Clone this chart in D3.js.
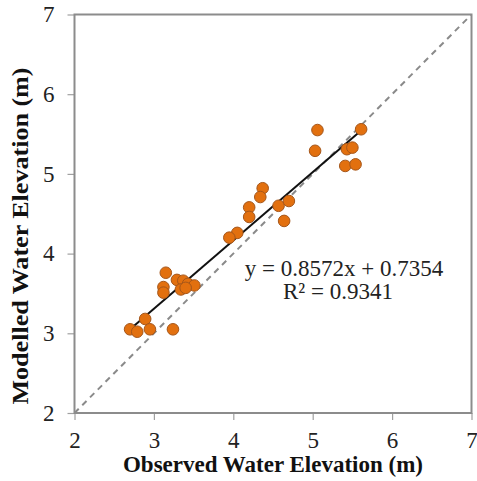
<!DOCTYPE html>
<html>
<head>
<meta charset="utf-8">
<script src="https://cdn.jsdelivr.net/npm/d3@7"></script>
<style>
  html, body { margin: 0; padding: 0; background: #fff; }
  svg { display: block; }
  text { font-family: "Liberation Serif", "Times New Roman", serif; }
</style>
</head>
<body>
<svg id="chart" width="477" height="481"></svg>
<script>
// Observed vs modelled water elevation (m)
const observed = [
  5.06, 5.03, 5.61, 5.43, 5.50, 5.41, 5.54,
  4.37, 4.34, 4.20, 4.20, 4.57, 4.70, 4.64, 4.05, 3.95,
  3.15, 3.12, 3.12, 3.29, 3.37, 3.43, 3.51, 3.34, 3.40,
  2.70, 2.79, 2.89, 2.95, 3.24
];
const modelled = [
  5.55, 5.29, 5.56, 5.31, 5.33, 5.10, 5.12,
  4.82, 4.71, 4.58, 4.46, 4.60, 4.66, 4.41, 4.26, 4.20,
  3.76, 3.58, 3.51, 3.67, 3.66, 3.62, 3.60, 3.55, 3.57,
  3.05, 3.02, 3.18, 3.05, 3.05
];
const ticks = [2, 3, 4, 5, 6, 7];
const fitSlope = 0.8572;
const fitIntercept = 0.7354;
const fitR2 = 0.9341;

const svg = d3.select("#chart");
const plotLeft = 74.5, plotRight = 471.5, plotTop = 14.5, plotBottom = 413;

const x = d3.scaleLinear().domain([2, 7]).range([plotLeft, plotRight]);
const y = d3.scaleLinear().domain([2, 7]).range([plotBottom, plotTop]);

// axes with outward ticks
const xAxis = svg.append("g")
  .attr("transform", `translate(0,${plotBottom})`)
  .call(d3.axisBottom(x).tickValues(ticks).tickSize(7).tickPadding(12).tickFormat(d3.format("d")));
const yAxis = svg.append("g")
  .attr("transform", `translate(${plotLeft},0)`)
  .call(d3.axisLeft(y).tickValues(ticks).tickSize(7).tickPadding(13).tickFormat(d3.format("d")));

[xAxis, yAxis].forEach(a => {
  a.select(".domain").remove();
  a.selectAll(".tick line").attr("stroke", "#a0a0a0").attr("stroke-width", 1.2);
  a.selectAll(".tick text")
    .attr("fill", "#222")
    .style("font-family", '"Liberation Serif", "Times New Roman", serif')
    .style("font-size", "23px");
});

// 1:1 reference line
svg.append("line")
  .attr("x1", x(2)).attr("y1", y(2))
  .attr("x2", x(7)).attr("y2", y(7))
  .attr("stroke", "#8a8a8a")
  .attr("stroke-width", 2)
  .attr("stroke-dasharray", "6,5");

// plot frame
svg.append("rect")
  .attr("x", plotLeft).attr("y", plotTop)
  .attr("width", plotRight - plotLeft).attr("height", plotBottom - plotTop)
  .attr("fill", "none")
  .attr("stroke", "#8c8c8c")
  .attr("stroke-width", 2);

// linear trend line over the observed range
const xMin = d3.min(observed), xMax = d3.max(observed);
svg.append("line")
  .attr("x1", x(xMin)).attr("y1", y(fitSlope * xMin + fitIntercept))
  .attr("x2", x(xMax)).attr("y2", y(fitSlope * xMax + fitIntercept))
  .attr("stroke", "#111")
  .attr("stroke-width", 2);

// scatter points
svg.append("g").selectAll("circle")
  .data(observed.map((o, i) => [o, modelled[i]]))
  .join("circle")
  .attr("cx", d => x(d[0]))
  .attr("cy", d => y(d[1]))
  .attr("r", 5.8)
  .attr("fill", "#e2700f")
  .attr("stroke", "#a5561a")
  .attr("stroke-width", 1);

// fit equation
const eq = svg.append("g").attr("fill", "#222").style("font-size", "23px");
eq.append("text")
  .attr("x", 344).attr("y", 276)
  .attr("text-anchor", "middle")
  .text(`y = ${fitSlope}x + ${fitIntercept}`);
eq.append("text")
  .attr("x", 338).attr("y", 299)
  .attr("text-anchor", "middle")
  .text(`R² = ${fitR2}`);

// axis titles
svg.append("text")
  .attr("x", (plotLeft + plotRight) / 2).attr("y", 472)
  .attr("text-anchor", "middle")
  .attr("fill", "#111")
  .style("font-weight", "bold")
  .style("font-size", "23px")
  .text("Observed Water Elevation (m)");
svg.append("text")
  .attr("transform", "translate(28,236) rotate(-90)")
  .attr("text-anchor", "middle")
  .attr("fill", "#111")
  .attr("textLength", 337)
  .attr("lengthAdjust", "spacingAndGlyphs")
  .style("font-weight", "bold")
  .style("font-size", "23px")
  .text("Modelled Water Elevation (m)");
</script>
</body>
</html>
